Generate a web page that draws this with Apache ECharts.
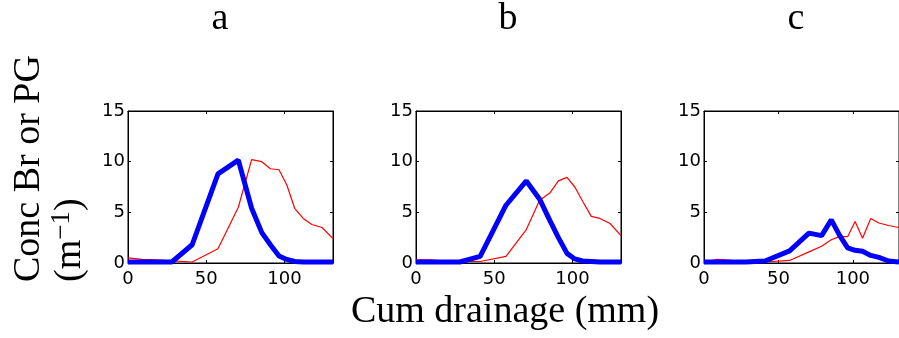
<!DOCTYPE html>
<html>
<head>
<meta charset="utf-8">
<script src="https://cdn.jsdelivr.net/npm/echarts@6/dist/echarts.min.js"></script>
<style>
html,body{margin:0;padding:0;background:#fff;overflow:hidden;}
#chart{width:899px;height:338px;}
</style>
</head>
<body>
<div id="chart"></div>
<script>
// Cumulative drainage (mm), shared x positions of the samples
const drain = [0, 9, 18, 28, 41, 57.5, 70.5, 79, 85.5, 91, 96.5, 101.5, 106.5, 112, 117.5, 124, 131];
// Panel a
const blueA = [0.1, 0.1, 0.1, 0.1, 1.8, 8.8, 10.15, 5.4, 3.0, 1.8, 0.7, 0.35, 0.15, 0.1, 0.1, 0.1, 0.1];
const redA  = [0.5, 0.35, 0.3, 0.2, 0.1, 1.4, 5.5, 10.2, 10.0, 9.3, 9.2, 7.7, 5.4, 4.4, 3.8, 3.5, 2.4];
// Panel b
const blueB = [0.1, 0.1, 0.1, 0.1, 0.65, 5.7, 8.1, 6.3, 4.2, 2.5, 0.95, 0.4, 0.2, 0.15, 0.1, 0.1, 0.1];
const redB  = [0.3, 0.3, 0.2, 0.15, 0.15, 0.65, 3.3, 6.2, 6.9, 8.1, 8.45, 7.5, 6.1, 4.6, 4.4, 3.9, 2.7];
// Panel c
const blueC = [0.1, 0.1, 0.1, 0.1, 0.2, 1.2, 2.95, 2.7, 4.25, 2.75, 1.5, 1.25, 1.15, 0.75, 0.55, 0.2, 0.1];
const redC  = [0.1, 0.35, 0.25, 0.1, 0.1, 0.25, 1.1, 1.65, 2.3, 2.6, 2.6, 4.1, 2.45, 4.4, 3.95, 3.7, 3.5];
// Labels
const panelTitles = ['a', 'b', 'c'];
const xTitle = 'Cum drainage (mm)';
const yTitle1 = 'Conc Br or PG';
const yTitle2 = '(m{sup|\u22121})';
const xTicks = {min: 0, max: 131, interval: 50};
const yTicks = {min: 0, max: 15, interval: 5};

const panels = [
  {left: 128, blue: blueA, red: redA, tx: 220},
  {left: 416, blue: blueB, red: redB, tx: 508},
  {left: 704, blue: blueC, red: redC, tx: 796}
];

const serif = '"Liberation Serif", "DejaVu Serif", serif';
const sans = '"DejaVu Sans", "Liberation Sans", sans-serif';
const axLine = {show: true, onZero: false, lineStyle: {color: '#000', width: 1}};
const axTick = {show: true, inside: true, length: 3, lineStyle: {color: '#000', width: 1}};
const xLab = {color: '#000', fontFamily: sans, fontSize: 18, margin: 7, showMaxLabel: false};
const yLab = {color: '#000', fontFamily: sans, fontSize: 18, margin: 3, padding: [4, 0, 0, 0]};

const grid = [], xAxis = [], yAxis = [], series = [], graphic = [];
panels.forEach((p, i) => {
  grid.push({left: p.left, top: 111, width: 205, height: 152, show: true, borderColor: '#000', borderWidth: 1, backgroundColor: 'transparent'});
  xAxis.push({gridIndex: i, type: 'value', position: 'bottom', min: xTicks.min, max: xTicks.max, interval: xTicks.interval,
    axisLine: axLine, axisTick: axTick, axisLabel: xLab, splitLine: {show: false}});
  xAxis.push({gridIndex: i, type: 'value', position: 'top', min: xTicks.min, max: xTicks.max, interval: xTicks.interval,
    axisLine: axLine, axisTick: axTick, axisLabel: {show: false}, splitLine: {show: false}});
  yAxis.push({gridIndex: i, type: 'value', position: 'left', min: yTicks.min, max: yTicks.max, interval: yTicks.interval,
    axisLine: axLine, axisTick: axTick, axisLabel: yLab, splitLine: {show: false}});
  yAxis.push({gridIndex: i, type: 'value', position: 'right', min: yTicks.min, max: yTicks.max, interval: yTicks.interval,
    axisLine: axLine, axisTick: axTick, axisLabel: {show: false}, splitLine: {show: false}});
  series.push({type: 'line', xAxisIndex: 2 * i + 1, yAxisIndex: 2 * i + 1, symbol: 'none', data: [], silent: true});
  series.push({type: 'line', xAxisIndex: 2 * i, yAxisIndex: 2 * i, symbol: 'none', clip: false, z: 2,
    data: drain.map((x, k) => [x, p.red[k]]), lineStyle: {color: '#ff0000', width: 1.2}});
  series.push({type: 'line', xAxisIndex: 2 * i, yAxisIndex: 2 * i, symbol: 'none', clip: false, z: 3,
    data: drain.map((x, k) => [x, p.blue[k]]), lineStyle: {color: '#0000ff', width: 5}});
  graphic.push({type: 'text', x: p.tx, y: 19, style: {text: panelTitles[i], fontFamily: serif, fontSize: 38,
    fill: '#000', align: 'center', verticalAlign: 'middle'}});
});

graphic.push({type: 'text', x: 505, y: 312, style: {text: xTitle, fontFamily: serif, fontSize: 38,
  fill: '#000', align: 'center', verticalAlign: 'middle'}});
graphic.push({type: 'text', x: 29, y: 282, rotation: Math.PI / 2, style: {text: yTitle1, fontFamily: serif, fontSize: 38,
  fill: '#000', align: 'left', verticalAlign: 'middle'}});
graphic.push({type: 'text', x: 70, y: 282, rotation: Math.PI / 2, style: {text: yTitle2, fontFamily: serif, fontSize: 38,
  fill: '#000', align: 'left', verticalAlign: 'middle', lineHeight: 44,
  rich: {sup: {fontFamily: serif, fontSize: 27, lineHeight: 25, verticalAlign: 'top', fill: '#000'}}}});

const chart = echarts.init(document.getElementById('chart'), null, {renderer: 'canvas'});
chart.setOption({
  backgroundColor: '#fff',
  animation: false,
  grid, xAxis, yAxis, series, graphic
});
</script>
</body>
</html>
